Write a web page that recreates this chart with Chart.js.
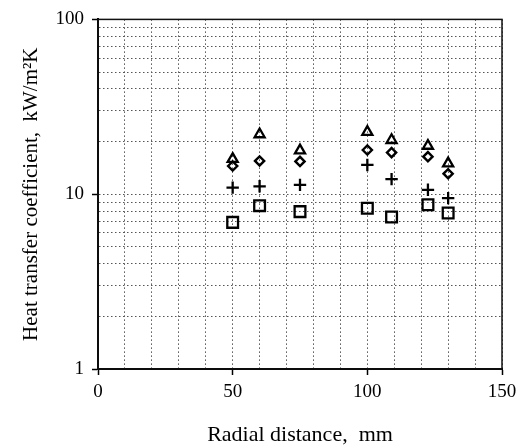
<!DOCTYPE html>
<html>
<head>
<meta charset="utf-8">
<script src="https://cdn.jsdelivr.net/npm/chart.js@4/dist/chart.umd.min.js"></script>
<style>
html,body{margin:0;padding:0;background:#fff;}
#wrap{width:523px;height:448px;position:relative;}
</style>
</head>
<body>
<div id="wrap"><canvas id="c" width="523" height="448"></canvas></div>
<script>
// Data
const radialDistance = [50, 60, 75, 100, 109, 122.5, 130];
const seriesTriangle = [15.9, 22.0, 17.8, 22.7, 20.4, 18.9, 15.0];
const seriesDiamond  = [14.5, 15.5, 15.4, 17.9, 17.3, 16.4, 13.1];
const seriesPlus     = [10.9, 11.1, 11.3, 14.7, 12.2, 10.6, 9.5];
const seriesSquare   = [6.9, 8.6, 7.95, 8.3, 7.4, 8.7, 7.8];
const xTickLabels = [0, 50, 100, 150];
const yTickLabels = [1, 10, 100];

function pts(ys){ return radialDistance.map((x,i)=>({x:x,y:ys[i]})); }
const FONT = "'Liberation Serif', 'DejaVu Serif', serif";

const frame = {
  id:'frame',
  afterDraw(chart){
    const a = chart.chartArea, ctx = chart.ctx;
    ctx.save();
    ctx.strokeStyle = '#111';
    ctx.lineWidth = 1.5;
    ctx.setLineDash([]);
    ctx.strokeRect(a.left, a.top, a.right-a.left, a.bottom-a.top);
    ctx.restore();
  }
};

function ds(label, data, style, radius, bw){
  return {label, data: pts(data), pointStyle: style, pointRadius: radius, pointHoverRadius: radius,
    pointBorderColor:'#000', pointBackgroundColor:'rgba(255,255,255,0)', pointBorderWidth: bw,
    borderColor:'#000', backgroundColor:'#fff', showLine:false};
}

const gridCommon = { color:'#555', lineWidth:1, drawTicks:true, tickLength:6, tickBorderDash:[], tickWidth:1.5 };

new Chart(document.getElementById('c'), {
  type:'scatter',
  data:{ datasets:[
    ds('triangle', seriesTriangle, 'triangle', 5.8, 2.3),
    ds('diamond', seriesDiamond, 'rectRot', 4.6, 2.4),
    ds('plus', seriesPlus, 'cross', 6.2, 2.3),
    ds('square', seriesSquare, 'rect', 7.6, 2.3)
  ]},
  options:{
    responsive:false,
    animation:false,
    events:[],
    layout:{padding:{top:18,right:21,left:0,bottom:0}},
    plugins:{legend:{display:false}, tooltip:{enabled:false}},
    scales:{
      x:{
        type:'linear', min:0, max:150,
        afterFit(s){ s.height = 79; },
        ticks:{ stepSize:10, color:'#000', font:{family:FONT, size:19}, padding:6, maxRotation:0, autoSkip:false,
          callback:(v)=> xTickLabels.includes(v) ? String(v) : '' },
        grid:Object.assign({}, gridCommon, {
          tickColor:(c)=> (c.tick && xTickLabels.includes(c.tick.value)) ? '#000' : 'rgba(0,0,0,0)' }),
        border:{ display:true, color:'#000', width:2, dash:[1.5,2.5] },
        title:{ display:true, text:'Radial distance,  mm', color:'#000', font:{family:FONT, size:22}, padding:{top:6,bottom:0} }
      },
      y:{
        type:'logarithmic', min:1, max:100,
        afterFit(s){ s.width = 98; },
        afterBuildTicks(s){
          const t=[]; for (let d=1; d<100; d*=10){ for(let k=1;k<10;k++){ t.push({value:d*k}); } } t.push({value:100});
          s.ticks = t;
        },
        ticks:{ color:'#000', font:{family:FONT, size:19}, padding:8, autoSkip:false,
          callback:(v)=> yTickLabels.includes(v) ? String(v) : '' },
        grid:Object.assign({}, gridCommon, {
          tickColor:(c)=> (c.tick && yTickLabels.includes(c.tick.value)) ? '#000' : 'rgba(0,0,0,0)' }),
        border:{ display:true, color:'#000', width:2, dash:[1.5,2.5] },
        title:{ display:true, text:'Heat transfer coefficient,  kW/m\u00B2K', color:'#000', font:{family:FONT, size:21}, padding:{top:19,bottom:0} }
      }
    }
  },
  plugins:[frame]
});
</script>
</body>
</html>
